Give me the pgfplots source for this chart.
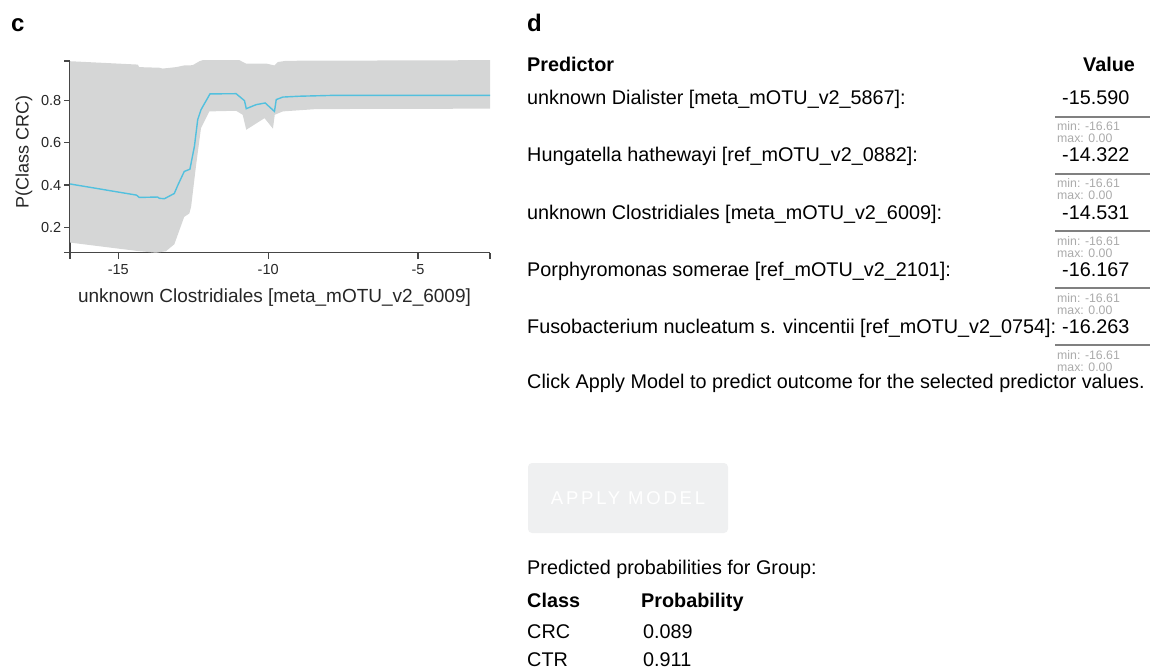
\documentclass[border=0pt]{standalone}
\usepackage{pgfplots}
\pgfplotsset{compat=1.18}
\usepackage{fontspec}
\setmainfont{Liberation Sans}
\definecolor{band}{RGB}{213,214,214}
\definecolor{cline}{RGB}{82,192,222}
\definecolor{axisc}{RGB}{70,70,70}
\definecolor{mm}{RGB}{170,170,170}
\definecolor{btn}{RGB}{239,240,241}
\definecolor{uline}{RGB}{128,128,128}
\newcommand\msz{\fontsize{19.8}{23}\selectfont}
\newcommand\ssz{\fontsize{12.3}{14}\selectfont}
\begin{document}
\begin{tikzpicture}
\useasboundingbox (0pt,0pt) rectangle (1150pt,-671pt);
\begin{axis}[
  at={(70pt,-252.5pt)}, anchor=south west,
  scale only axis, width=420pt, height=191.5pt,
  xmin=-16.61, xmax=-2.6, ymin=0.08, ymax=0.988,
  axis x line*=bottom, axis y line*=left,
  axis line style={-, axisc, line width=1.2pt},
  tick style={axisc, line width=1.2pt},
  tick align=outside, major tick length=6pt,
  xtick={-15,-10,-5}, ytick={0.2,0.4,0.6,0.8},
  extra x ticks={-16.61,-2.6}, extra x tick labels={},
  extra y ticks={0.08,0.988}, extra y tick labels={},
  extra tick style={major tick length=6pt},
  /pgf/number format/assume math mode=true,
  yticklabel style={/pgf/number format/fixed, /pgf/number format/precision=1, inner sep=2.5pt},
  xticklabel style={yshift=-2pt},
  ticklabel style={font=\fontsize{14.5}{16}\selectfont, text=black!85},
  xlabel={unknown Clostridiales [meta\_mOTU\_v2\_6009]},
  ylabel={P(Class CRC)},
  xlabel style={font=\fontsize{19}{22}\selectfont, text=black!85, at={(axis description cs:0.487,0)}, anchor=base, yshift=-49.5pt},
  ylabel style={font=\fontsize{18}{21}\selectfont, text=black!85, at={(axis description cs:-0.0988,0.525)}, anchor=base},
  clip=true,
]
\addplot[fill=band, draw=none] coordinates {
(-16.61,0.987) (-14.35,0.971) (-14.30,0.959) (-13.63,0.956) (-13.52,0.952)
(-13.07,0.959) (-12.80,0.967) (-12.52,0.968) (-12.29,0.987) (-12.18,0.992)
(-10.96,0.992) (-10.73,0.975) (-10.51,0.975) (-10.07,0.976) (-9.79,0.967)
(-9.68,0.983) (-9.40,0.989) (-2.6,0.992)
(-2.6,0.762) (-8.40,0.760) (-9.51,0.749) (-9.78,0.733) (-9.84,0.667)
(-10.12,0.717) (-10.73,0.662) (-10.85,0.733) (-11.07,0.752) (-11.96,0.749)
(-12.24,0.670) (-12.41,0.487) (-12.57,0.297) (-12.63,0.265) (-12.80,0.249)
(-12.96,0.186) (-13.13,0.119) (-13.41,0.086) (-13.74,0.079) (-14.35,0.087)
(-16.61,0.127)
} -- cycle;
\addplot[cline, line width=1.4pt, no marks] coordinates {
(-16.61,0.405) (-14.39,0.352) (-14.30,0.341) (-13.69,0.343) (-13.63,0.337)
(-13.46,0.335) (-13.13,0.360) (-13.02,0.397) (-12.80,0.464) (-12.61,0.475)
(-12.46,0.583) (-12.35,0.710) (-12.24,0.757) (-11.94,0.832) (-11.07,0.833)
(-10.79,0.800) (-10.73,0.762) (-10.40,0.781) (-10.10,0.789) (-9.79,0.749)
(-9.73,0.805) (-9.51,0.817) (-8.95,0.821) (-7.84,0.825) (-2.6,0.825)
};
\end{axis}
\begin{scope}[x=1pt,y=-1pt]
\node[anchor=base west, inner sep=0pt, font=\fontsize{24}{28}\selectfont\bfseries] at (11,32) {c};
\node[anchor=base west, inner sep=0pt, font=\fontsize{24}{28}\selectfont\bfseries] at (527,32) {d};
\node[anchor=base west, inner sep=0pt, font=\msz\bfseries] at (527,72) {Predictor};
\node[anchor=base west, inner sep=0pt, font=\msz\bfseries] at (1083,72) {Value};
\foreach \y/\t/\v in {105/{unknown Dialister [meta\_mOTU\_v2\_5867]:}/-15.590,
                      162/{Hungatella hathewayi [ref\_mOTU\_v2\_0882]:}/-14.322,
                      219/{unknown Clostridiales [meta\_mOTU\_v2\_6009]:}/-14.531,
                      276/{Porphyromonas somerae [ref\_mOTU\_v2\_2101]:}/-16.167,
                      333/{Fusobacterium nucleatum s. vincentii [ref\_mOTU\_v2\_0754]:}/-16.263} {
  \node[anchor=base west, inner sep=0pt, font=\msz] at (527,\y) {\t};
  \node[anchor=base west, inner sep=0pt, font=\msz] at (1062,\y) {\v};
  \draw[uline, line width=2pt] (1055,\y+12) -- (1150,\y+12);
  \node[anchor=base west, inner sep=0pt, font=\ssz, text=mm] at (1057,\y+26) {min: -16.61};
  \node[anchor=base west, inner sep=0pt, font=\ssz, text=mm] at (1057,\y+38) {max: 0.00};
}
\node[anchor=base west, inner sep=0pt, font=\msz] at (527,388) {Click Apply Model to predict outcome for the selected predictor values.};
\fill[btn, rounded corners=4pt] (528,463) rectangle (728,533);
\node[inner sep=0pt, font=\fontsize{18.5}{22}\selectfont\addfontfeatures{LetterSpace=15}, text=white] at (628,498) {APPLY MODEL};
\node[anchor=base west, inner sep=0pt, font=\msz] at (527,574) {Predicted probabilities for Group:};
\node[anchor=base west, inner sep=0pt, font=\msz\bfseries] at (527,607) {Class};
\node[anchor=base west, inner sep=0pt, font=\msz\bfseries] at (641,607) {Probability};
\node[anchor=base west, inner sep=0pt, font=\msz] at (527,638) {CRC};
\node[anchor=base west, inner sep=0pt, font=\msz] at (643,638) {0.089};
\node[anchor=base west, inner sep=0pt, font=\msz] at (527,666) {CTR};
\node[anchor=base west, inner sep=0pt, font=\msz] at (643,666) {0.911};
\end{scope}
\end{tikzpicture}
\end{document}
